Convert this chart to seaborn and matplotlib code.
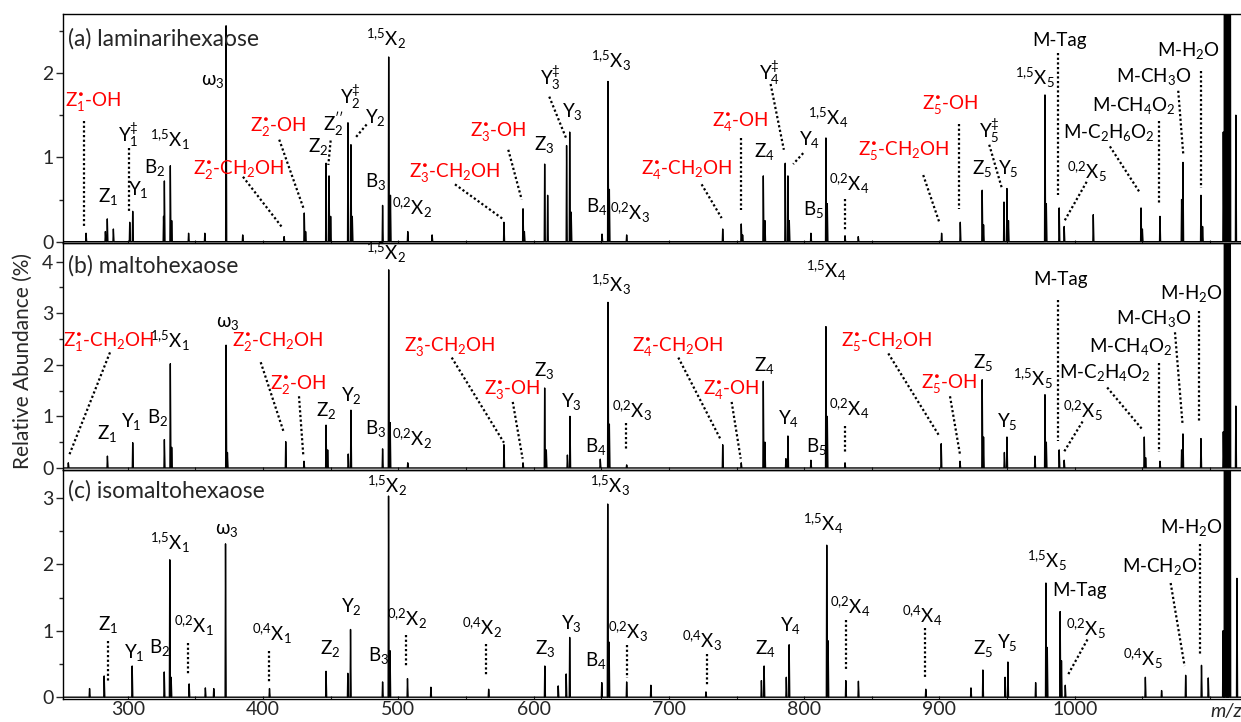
import numpy as np
import pandas as pd
import seaborn as sns
import matplotlib.pyplot as plt
from matplotlib.ticker import MultipleLocator, FixedLocator

# Peak lists: m/z and relative abundance (%)
# (a) laminarihexaose
lam_mz = [269.2, 283.5, 284.9, 289.4, 301.5, 303.7, 326.5, 327.1, 331.5, 332.5, 345.0, 357.0,
          372.7, 385.0, 415.6, 430.5, 431.5, 446.6, 448.8, 450.0, 462.8, 465.0, 466.0, 488.4,
          492.9, 494.2, 507.0, 525.0, 578.1, 592.2, 593.2, 608.2, 610.4, 624.4, 626.7, 627.8,
          650.6, 655.0, 656.0, 668.8, 739.8, 753.5, 754.5, 769.8, 771.0, 786.0, 788.0, 789.0,
          805.0, 816.1, 817.1, 830.2, 840.0, 901.6, 915.4, 931.6, 932.6, 947.7, 949.9, 951.0,
          978.0, 979.0, 988.5, 992.2, 1013.7, 1049.0, 1050.0, 1063.0, 1079.0, 1080.0, 1093.3,
          1094.5, 1109.8, 1110.8, 1111.8, 1112.8, 1113.8, 1114.8, 1119.1]
lam_ab = [0.10, 0.12, 0.27, 0.15, 0.23, 0.36, 0.30, 0.72, 0.90, 0.25, 0.10, 0.10,
          2.56, 0.08, 0.06, 0.34, 0.12, 0.93, 0.78, 0.30, 1.41, 1.15, 0.30, 0.43,
          2.19, 0.55, 0.12, 0.08, 0.23, 0.39, 0.12, 0.92, 0.55, 1.14, 1.30, 0.35,
          0.09, 1.90, 0.62, 0.08, 0.15, 0.21, 0.08, 0.78, 0.25, 0.93, 0.78, 0.25,
          0.10, 1.23, 0.45, 0.07, 0.06, 0.10, 0.23, 0.61, 0.20, 0.47, 0.63, 0.25,
          1.74, 0.45, 0.40, 0.18, 0.32, 0.40, 0.15, 0.30, 0.50, 0.94, 0.55,
          0.18, 1.30, 25.0, 100.0, 60.0, 25.0, 8.0, 1.50]

# (b) maltohexaose
mal_mz = [256.1, 285.0, 303.7, 327.1, 331.5, 332.5, 372.7, 373.7, 416.8, 430.3, 446.6, 447.8,
          463.0, 465.0, 488.4, 492.9, 494.0, 507.0, 578.1, 592.2, 608.2, 609.4, 625.0, 626.9,
          649.3, 655.0, 656.0, 668.8, 739.8, 753.5, 769.8, 771.0, 786.5, 788.0, 805.0, 816.1,
          817.1, 830.2, 901.3, 915.2, 931.6, 932.6, 948.0, 949.9, 970.6, 978.0, 979.0, 988.5,
          992.2, 1051.4, 1052.4, 1063.0, 1079.0, 1080.0, 1093.3, 1109.8, 1110.8, 1111.8,
          1112.8, 1113.8, 1114.8, 1119.1]
mal_ab = [0.10, 0.23, 0.49, 0.55, 2.02, 0.40, 2.38, 0.30, 0.51, 0.13, 0.83, 0.35,
          0.27, 1.12, 0.37, 3.84, 0.88, 0.10, 0.45, 0.10, 1.55, 0.35, 0.25, 1.00,
          0.17, 3.21, 0.85, 0.06, 0.45, 0.10, 1.68, 0.50, 0.18, 0.62, 0.15, 2.74,
          1.00, 0.10, 0.47, 0.13, 1.71, 0.60, 0.30, 0.60, 0.23, 1.42, 0.50, 0.35,
          0.15, 0.60, 0.20, 0.13, 0.35, 0.66, 0.57, 0.70, 25.0, 100.0,
          60.0, 25.0, 8.0, 1.20]

# (c) isomaltohexaose
iso_mz = [271.8, 282.6, 303.3, 327.0, 331.1, 332.1, 345.4, 357.4, 363.6, 372.3, 404.8, 446.6,
          462.7, 464.7, 488.4, 492.8, 493.9, 506.8, 524.1, 566.8, 608.3, 618.2, 624.1, 626.7,
          650.4, 654.8, 655.8, 668.8, 686.7, 727.4, 768.4, 770.4, 786.8, 788.9, 816.7, 817.7,
          830.8, 840.1, 889.9, 923.3, 932.1, 948.5, 950.6, 971.1, 978.7, 979.7, 989.2, 990.2,
          993.0, 1052.2, 1064.2, 1082.0, 1093.7, 1098.7, 1109.6, 1110.8, 1111.8, 1112.8,
          1113.8, 1114.8, 1119.9]
iso_ab = [0.13, 0.32, 0.47, 0.38, 2.07, 0.30, 0.20, 0.14, 0.13, 2.31, 0.13, 0.39,
          0.36, 1.02, 0.23, 3.03, 0.70, 0.28, 0.15, 0.12, 0.47, 0.17, 0.35, 0.90,
          0.22, 2.91, 0.83, 0.23, 0.18, 0.08, 0.25, 0.47, 0.30, 0.79, 2.29, 0.85,
          0.25, 0.24, 0.12, 0.14, 0.41, 0.30, 0.53, 0.22, 1.72, 0.75, 1.29, 0.55,
          0.18, 0.30, 0.10, 0.33, 0.48, 0.29, 1.00, 25.0, 100.0, 60.0,
          25.0, 8.0, 1.79]

titles = ["(a) laminarihexaose", "(b) maltohexaose", "(c) isomaltohexaose"]
xticks = [300, 400, 500, 600, 700, 800, 900, 1000]

RED = "#ff0000"
K = "black"

# fragment labels: text, m/z, abundance, colour
lam_labels = [
    (r"Z$_1^•$-OH", 274.4, 1.65, RED), (r"Y$_1^‡$", 300.4, 1.27, K), (r"Y$_1$", 307.8, 0.62, K),
    (r"Z$_1$", 285.7, 0.54, K), (r"B$_2$", 320.2, 0.88, K), (r"$^{1{,}5}$X$_1$", 331.3, 1.21, K),
    (r"ω$_3$", 362.5, 1.90, K), (r"Z$_2^•$-CH$_2$OH", 381.7, 0.85, RED),
    (r"Z$_2^•$-OH", 411.3, 1.35, RED), (r"Z$_2$", 440.9, 1.13, K), (r"Z$_2''$", 452.0, 1.39, K),
    (r"Y$_2^‡$", 464.3, 1.72, K), (r"Y$_2$", 482.8, 1.47, K), (r"B$_3$", 483.5, 0.71, K),
    (r"$^{1{,}5}$X$_2$", 490.9, 2.41, K), (r"$^{0{,}2}$X$_2$", 510.1, 0.40, K),
    (r"Z$_3^•$-CH$_2$OH", 541.9, 0.81, RED), (r"Z$_3^•$-OH", 573.9, 1.29, RED),
    (r"Z$_3$", 607.7, 1.15, K), (r"Y$_3^‡$", 612.2, 1.94, K), (r"Y$_3$", 628.6, 1.54, K),
    (r"$^{1{,}5}$X$_3$", 657.0, 2.14, K), (r"B$_4$", 646.6, 0.42, K), (r"$^{0{,}2}$X$_3$", 671.3, 0.34, K),
    (r"Z$_4^•$-CH$_2$OH", 713.2, 0.85, RED), (r"Z$_4^•$-OH", 752.6, 1.41, RED),
    (r"Z$_4$", 770.3, 1.07, K), (r"Y$_4^‡$", 774.7, 2.00, K), (r"Y$_4$", 803.8, 1.21, K),
    (r"B$_5$", 806.7, 0.38, K), (r"$^{1{,}5}$X$_4$", 817.6, 1.47, K), (r"$^{0{,}2}$X$_4$", 833.3, 0.68, K),
    (r"Z$_5^•$-CH$_2$OH", 873.3, 1.07, RED), (r"Z$_5^•$-OH", 907.8, 1.62, RED),
    (r"Y$_5^‡$", 936.8, 1.31, K), (r"Z$_5$", 931.6, 0.87, K), (r"Y$_5$", 950.8, 0.87, K),
    (r"$^{1{,}5}$X$_5$", 970.6, 1.94, K), ("M-Tag", 989.1, 2.39, K), (r"$^{0{,}2}$X$_5$", 1008.8, 0.83, K),
    (r"M-C$_2$H$_6$O$_2$", 1025.5, 1.29, K), (r"M-CH$_4$O$_2$", 1043.8, 1.62, K),
    (r"M-CH$_3$O", 1058.8, 1.96, K), (r"M-H$_2$O", 1083.9, 2.27, K),
]
lam_leaders = [
    (267.9, 1.43, 267.9, 0.16), (300.7, 1.11, 300.7, 0.34), (385.2, 0.77, 414.6, 0.16),
    (412.0, 1.21, 430.3, 0.38), (450.0, 1.20, 448.3, 0.91), (476.6, 1.39, 468.7, 1.24),
    (541.9, 0.68, 578.1, 0.26), (581.3, 1.09, 591.2, 0.50), (611.6, 1.72, 624.5, 1.21),
    (724.2, 0.68, 739.0, 0.28), (753.1, 1.23, 753.1, 0.38), (775.2, 1.87, 785.0, 1.09),
    (799.3, 1.05, 791.9, 0.92), (830.2, 0.51, 830.2, 0.14), (888.0, 0.79, 899.9, 0.23),
    (914.6, 1.40, 914.6, 0.39), (936.8, 1.15, 946.4, 0.62), (987.6, 2.24, 987.6, 0.55),
    (1008.8, 0.71, 992.2, 0.24), (1026.0, 1.13, 1048.2, 0.58), (1062.5, 1.43, 1062.5, 0.44),
    (1076.5, 1.79, 1080.2, 1.04), (1093.1, 2.02, 1093.1, 0.64),
]

mal_labels = [
    (r"Z$_1^•$-CH$_2$OH", 285.7, 2.43, RED), (r"$^{1{,}5}$X$_1$", 331.3, 2.46, K), (r"ω$_3$", 373.6, 2.81, K),
    (r"Z$_2^•$-CH$_2$OH", 410.6, 2.43, RED), (r"Z$_2^•$-OH", 426.1, 1.60, RED), (r"Z$_2$", 446.6, 1.11, K),
    (r"Y$_2$", 465.0, 1.41, K), (r"Z$_1$", 284.5, 0.66, K), (r"Y$_1$", 302.4, 0.90, K),
    (r"B$_2$", 322.2, 0.97, K), (r"B$_3$", 483.5, 0.76, K), (r"$^{1{,}5}$X$_2$", 490.9, 4.16, K),
    (r"$^{0{,}2}$X$_2$", 510.1, 0.56, K), (r"$^{1{,}5}$X$_3$", 657.0, 3.55, K),
    (r"Z$_3^•$-CH$_2$OH", 538.2, 2.34, RED), (r"Z$_3^•$-OH", 583.8, 1.50, RED), (r"Z$_3$", 607.7, 1.89, K),
    (r"Y$_3$", 628.2, 1.28, K), (r"B$_4$", 646.1, 0.41, K), (r"$^{0{,}2}$X$_3$", 672.5, 1.11, K),
    (r"Z$_4^•$-CH$_2$OH", 706.2, 2.34, RED), (r"Z$_4^•$-OH", 746.4, 1.50, RED), (r"Z$_4$", 770.5, 1.98, K),
    (r"Y$_4$", 788.3, 0.96, K), (r"B$_5$", 809.2, 0.41, K), (r"$^{1{,}5}$X$_4$", 816.1, 3.82, K),
    (r"$^{0{,}2}$X$_4$", 833.3, 1.14, K), (r"Z$_5^•$-CH$_2$OH", 861.0, 2.43, RED),
    (r"Z$_5^•$-OH", 907.2, 1.61, RED), (r"Z$_5$", 931.9, 2.04, K), (r"Y$_5$", 950.4, 0.90, K),
    (r"$^{1{,}5}$X$_5$", 969.3, 1.72, K), ("M-Tag", 989.6, 3.66, K), (r"$^{0{,}2}$X$_5$", 1006.3, 1.11, K),
    (r"M-C$_2$H$_4$O$_2$", 1022.3, 1.85, K), (r"M-CH$_4$O$_2$", 1041.3, 2.35, K),
    (r"M-CH$_3$O", 1058.8, 2.89, K), (r"M-H$_2$O", 1086.4, 3.39, K),
]
mal_leaders = [
    (286.9, 2.24, 256.6, 0.24), (398.3, 2.05, 415.0, 0.72), (426.6, 1.39, 429.8, 0.24),
    (539.5, 2.14, 578.1, 0.49), (584.6, 1.28, 591.9, 0.18), (668.1, 0.87, 668.1, 0.33),
    (707.0, 2.14, 738.3, 0.55), (746.4, 1.28, 753.1, 0.18), (830.2, 0.82, 830.2, 0.28),
    (862.2, 2.22, 899.9, 0.62), (907.8, 1.39, 915.2, 0.26), (987.6, 3.26, 987.6, 0.53),
    (1005.8, 0.90, 992.0, 0.31), (1024.0, 1.56, 1050.2, 0.74), (1062.5, 2.04, 1062.5, 0.31),
    (1074.1, 2.63, 1079.7, 0.85), (1092.0, 3.04, 1092.0, 0.89),
]

iso_labels = [
    (r"$^{1{,}5}$X$_2$", 491.9, 3.19, K), (r"$^{1{,}5}$X$_1$", 331.1, 2.33, K), (r"ω$_3$", 373.5, 2.51, K),
    (r"Z$_1$", 285.2, 1.09, K), (r"Y$_1$", 304.8, 0.68, K), (r"B$_2$", 323.8, 0.75, K),
    (r"$^{0{,}2}$X$_1$", 348.7, 1.08, K), (r"$^{0{,}4}$X$_1$", 406.5, 0.95, K), (r"Z$_2$", 449.5, 0.73, K),
    (r"Y$_2$", 465.0, 1.37, K), (r"B$_3$", 485.5, 0.63, K), (r"$^{0{,}2}$X$_2$", 506.5, 1.18, K),
    (r"$^{0{,}4}$X$_2$", 562.1, 1.04, K), (r"Z$_3$", 608.9, 0.74, K), (r"Y$_3$", 627.9, 1.11, K),
    (r"B$_4$", 646.3, 0.55, K), (r"$^{1{,}5}$X$_3$", 656.5, 3.18, K), (r"$^{0{,}2}$X$_3$", 670.2, 0.98, K),
    (r"$^{0{,}4}$X$_3$", 724.4, 0.85, K), (r"Z$_4$", 771.3, 0.73, K), (r"Y$_4$", 789.8, 1.08, K),
    (r"$^{1{,}5}$X$_4$", 814.4, 2.61, K), (r"$^{0{,}2}$X$_4$", 834.3, 1.36, K), (r"$^{0{,}4}$X$_4$", 887.6, 1.23, K),
    (r"Z$_5$", 932.4, 0.74, K), (r"Y$_5$", 950.0, 0.83, K), (r"$^{1{,}5}$X$_5$", 979.3, 2.06, K),
    ("M-Tag", 1003.6, 1.61, K), (r"$^{0{,}2}$X$_5$", 1008.6, 1.03, K), (r"$^{0{,}4}$X$_5$", 1050.4, 0.58, K),
    (r"M-CH$_2$O", 1062.7, 1.97, K), (r"M-H$_2$O", 1086.2, 2.56, K),
]
iso_leaders = [
    (285.2, 0.84, 285.2, 0.23), (344.3, 0.82, 344.3, 0.34), (404.8, 0.70, 404.8, 0.23),
    (506.0, 0.94, 506.0, 0.45), (565.0, 0.80, 565.0, 0.32), (668.8, 0.79, 668.8, 0.29),
    (728.0, 0.65, 728.0, 0.17), (830.8, 1.16, 830.8, 0.40), (889.3, 1.05, 889.3, 0.28),
    (1009.4, 0.87, 994.8, 0.33), (1070.9, 1.72, 1081.2, 0.47), (1092.6, 2.31, 1092.6, 0.64),
]

XMIN, XMAX = 252.2, 1122.9

sns.set_theme(style="ticks")
plt.rcParams['font.family'] = ['Lato', 'DejaVu Sans']
plt.rcParams['mathtext.default'] = 'regular'


def profile(mz, ab):
    # stick peaks as narrow triangles on a zero baseline
    xs, ys = [XMIN], [0.0]
    for m, h in sorted(zip(mz, ab)):
        xs += [m - 0.3, m, m + 0.45]
        ys += [0.0, h, 0.0]
    xs.append(XMAX)
    ys.append(0.0)
    return pd.DataFrame({'mz': xs, 'abundance': ys})


fig = plt.figure(figsize=(12.41, 7.22), dpi=100)
rects = [[0.0508, 0.6641, 0.9492, 0.3165],
         [0.0508, 0.3497, 0.9492, 0.3144],
         [0.0508, 0.0325, 0.9492, 0.3172]]
ylims = [(-0.01, 2.70), (-0.03, 4.37), (-0.02, 3.43)]
spectra = [(lam_mz, lam_ab), (mal_mz, mal_ab), (iso_mz, iso_ab)]
all_labels = [lam_labels, mal_labels, iso_labels]
all_leaders = [lam_leaders, mal_leaders, iso_leaders]
title_y = [2.40, 3.92, 3.11]

for i in range(3):
    ax = fig.add_axes(rects[i])
    df = profile(*spectra[i])
    sns.lineplot(data=df, x='mz', y='abundance', sort=False, estimator=None,
                 color='black', lw=1.0, ax=ax)
    ax.set_xlim(XMIN, XMAX)
    ax.set_ylim(*ylims[i])
    ax.set_xlabel('')
    ax.set_ylabel('')
    ax.yaxis.set_major_locator(MultipleLocator(1))
    ax.yaxis.set_minor_locator(MultipleLocator(0.5))
    ax.xaxis.set_major_locator(FixedLocator(xticks))
    ax.xaxis.set_minor_locator(MultipleLocator(50))
    ax.tick_params(axis='y', which='major', direction='out', length=5, width=1, labelsize=14, pad=2)
    ax.tick_params(axis='y', which='minor', direction='out', length=3, width=1)
    ax.tick_params(axis='x', which='both', direction='in', length=2, width=0.8, labelsize=14, pad=2)
    if i < 2:
        ax.tick_params(axis='x', labelbottom=False)
    for s in ['left', 'bottom', 'top']:
        ax.spines[s].set_linewidth(1.0)
        ax.spines[s].set_color('black')
    ax.spines['right'].set_visible(False)
    ax.patch.set_alpha(0)

    ax.text(255.7, title_y[i], titles[i], fontsize=16.5, ha='left', va='center')
    for txt, x, y, c in all_labels[i]:
        ax.text(x, y, txt, fontsize=13.5, color=c, ha='center', va='center')
    for x0, y0, x1, y1 in all_leaders[i]:
        ax.plot([x0, x1], [y0, y1], color='black', lw=1.6, linestyle=(0, (1, 1.1)))

fig.text(22.7 / 1241, 1 - 361 / 722, 'Relative Abundance (%)', rotation=90,
         ha='center', va='center', fontsize=15)
fig.text(1226 / 1241, 1 - 712 / 722, 'm/z', style='italic', ha='center', va='center', fontsize=14)

fig.savefig('out.png', dpi=100)
